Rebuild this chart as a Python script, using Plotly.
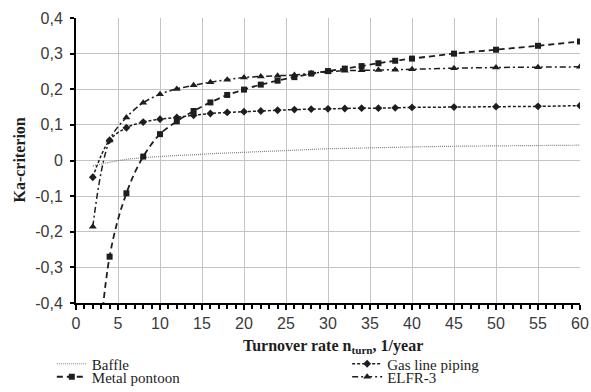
import plotly.graph_objects as go

# ---- data ----
x_rate = [2, 4, 6, 8, 10, 12, 14, 16, 18, 20, 22, 24, 26, 28, 30, 32, 34, 36, 38, 40, 45, 50, 55, 60]

baffle = [-0.015, -0.005, 0.003, 0.008, 0.011, 0.014, 0.016, 0.019, 0.021, 0.023, 0.025, 0.027,
          0.029, 0.031, 0.033, 0.034, 0.035, 0.036, 0.037, 0.038, 0.040, 0.041, 0.042, 0.043]
gas_line = [-0.047, 0.057, 0.092, 0.108, 0.116, 0.121, 0.127, 0.132, 0.135, 0.137, 0.139, 0.141,
            0.143, 0.144, 0.145, 0.146, 0.147, 0.147, 0.148, 0.149, 0.150, 0.151, 0.152, 0.154]
metal_pontoon = [-0.75, -0.27, -0.092, 0.011, 0.074, 0.110, 0.139, 0.163, 0.184, 0.199, 0.213, 0.224,
                 0.234, 0.244, 0.251, 0.258, 0.265, 0.273, 0.280, 0.286, 0.300, 0.311, 0.322, 0.334]
elfr3 = [-0.186, 0.056, 0.121, 0.162, 0.186, 0.201, 0.211, 0.220, 0.227, 0.233, 0.236, 0.238,
         0.240, 0.245, 0.249, 0.252, 0.253, 0.254, 0.255, 0.256, 0.259, 0.261, 0.262, 0.263]

series_names = ["Baffle", "Gas line piping", "Metal pontoon", "ELFR-3"]

y_tickvals = [-0.4, -0.3, -0.2, -0.1, 0, 0.1, 0.2, 0.3, 0.4]
y_ticktext = ["-0,4", "-0,3", "-0,2", "-0,1", "0", "0,1", "0,2", "0,3", "0,4"]
x_tickvals = [0, 5, 10, 15, 20, 25, 30, 35, 40, 45, 50, 55, 60]

x_title = "<b>Turnover rate n<sub>turn</sub>, 1/year</b>"
y_title = "<b>Ka-criterion</b>"

SERIF = "Liberation Serif, Times New Roman, serif"
SANS = "Liberation Sans, Arial, sans-serif"
INK = "#1e1e1e"

fig = go.Figure()

styles = [
    dict(y=baffle, line=dict(color="#808080", width=1.2, dash="1px,1px"), mode="lines", marker=None, legend="legend"),
    dict(y=gas_line, line=dict(color=INK, width=1.5, dash="3px,2px"), mode="lines+markers",
         marker=dict(symbol="diamond", size=6, color=INK), legend="legend2"),
    dict(y=metal_pontoon, line=dict(color=INK, width=1.8, dash="6px,4px"), mode="lines+markers",
         marker=dict(symbol="square", size=6, color=INK), legend="legend3"),
    dict(y=elfr3, line=dict(color=INK, width=1.5, dash="6px,3px,2px,3px"), mode="lines+markers",
         marker=dict(symbol="triangle-up", size=7, color=INK), legend="legend4"),
]

for name, st in zip(series_names, styles):
    kw = dict(x=x_rate, y=st["y"], name=name, mode=st["mode"], line=st["line"],
              line_shape="spline", legend=st["legend"])
    if st["marker"] is not None:
        kw["marker"] = st["marker"]
    fig.add_trace(go.Scatter(**kw))

leg_font = dict(family=SERIF, size=15, color=INK)
common_leg = dict(font=leg_font, bgcolor="rgba(0,0,0,0)", xanchor="left", yanchor="middle",
                  xref="paper", yref="container", itemwidth=30, tracegroupgap=0)
fig.update_layout(
    width=591, height=392,
    margin=dict(l=76, r=11, t=18, b=89),
    paper_bgcolor="white", plot_bgcolor="white",
    showlegend=True,
    legend=dict(x=-0.048, y=0.0714, **common_leg),
    legend2=dict(x=0.538, y=0.0714, **common_leg),
    legend3=dict(x=-0.048, y=0.0383, **common_leg),
    legend4=dict(x=0.538, y=0.0383, **common_leg),
    xaxis=dict(
        range=[0, 60], tickvals=x_tickvals, ticktext=[str(v) for v in x_tickvals],
        showgrid=True, gridcolor="#c4c4c4", gridwidth=1,
        showline=True, linecolor="black", linewidth=2,
        ticks="outside", ticklen=5, tickcolor="black", tickwidth=1.5,
        minor=dict(dtick=1, ticks="outside", ticklen=4, tickcolor="black", tickwidth=1.5, showgrid=False),
        tickfont=dict(family=SANS, size=16, color="#3a3a3a"),
        zeroline=False, mirror=False, automargin=False,
    ),
    yaxis=dict(
        range=[-0.4, 0.4], tickvals=y_tickvals, ticktext=y_ticktext,
        showgrid=True, gridcolor="#c4c4c4", gridwidth=1,
        showline=True, linecolor="black", linewidth=2,
        ticks="outside", ticklen=4, tickcolor="black", tickwidth=1.5,
        ticklabelstandoff=4,
        tickfont=dict(family=SANS, size=16, color="#3a3a3a"),
        zeroline=False, automargin=False,
    ),
    annotations=[
        dict(text=x_title, xref="paper", yref="paper", x=0.51, y=-0.151,
             xanchor="center", yanchor="middle", showarrow=False,
             font=dict(family=SERIF, size=16, color=INK)),
        dict(text=y_title, xref="paper", yref="paper", x=-0.113, y=0.5, textangle=-90,
             xanchor="center", yanchor="middle", showarrow=False,
             font=dict(family=SERIF, size=16, color=INK)),
    ],
)

fig.write_html("out.html", config={"displayModeBar": False},
               post_script="document.body.style.margin='0';")
